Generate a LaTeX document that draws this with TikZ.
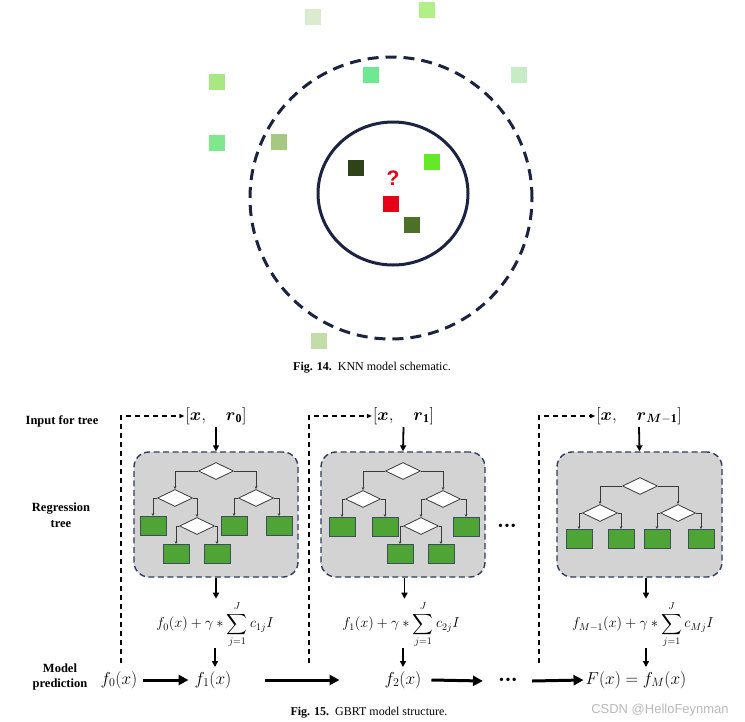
\documentclass[tikz,border=0pt]{standalone}
\usepackage{fontspec}
\setmainfont{Liberation Serif}
\setsansfont{Liberation Sans}
\usepackage{amsmath}
\usetikzlibrary{shapes.geometric,arrows.meta}
\definecolor{navy}{HTML}{1B2340}
\definecolor{boxline}{HTML}{2E3B5C}
\definecolor{boxgray}{HTML}{D3D3D3}
\definecolor{leafgreen}{HTML}{4EA535}
\definecolor{leafline}{HTML}{3E4E5A}
\definecolor{treeline}{HTML}{3A3A3A}
\definecolor{qred}{HTML}{E60018}
\definecolor{ka}{HTML}{DCEBD0}
\definecolor{kb}{HTML}{B3EF87}
\definecolor{kc}{HTML}{A8E880}
\definecolor{kd}{HTML}{6EE891}
\definecolor{ke}{HTML}{C6ECC6}
\definecolor{kf}{HTML}{80E88C}
\definecolor{kg}{HTML}{A7C880}
\definecolor{kh}{HTML}{2E4418}
\definecolor{ki}{HTML}{64E82A}
\definecolor{kj}{HTML}{4A7127}
\definecolor{kk}{HTML}{C2DCAA}
\begin{document}
\begin{tikzpicture}[x=1pt,y=-1pt,
  sq/.style={rectangle, minimum width=16pt, minimum height=16pt, inner sep=0pt, draw=none},
  treebox/.style={rectangle, draw=boxline, fill=boxgray, dash pattern=on 6pt off 3.5pt, line width=1.4pt, rounded corners=15pt, minimum height=125pt, inner sep=0pt},
  dia/.style={diamond, draw=treeline, fill=white, minimum width=35pt, minimum height=17pt, inner sep=0pt, line width=0.8pt},
  leaf/.style={rectangle, draw=leafline, fill=leafgreen, minimum width=26pt, minimum height=19pt, inner sep=0pt, line width=0.8pt},
  tedge/.style={draw=treeline, line width=0.8pt, -{Stealth[length=3pt,width=2.6pt]}},
  varrow/.style={line width=1.8pt, -{Triangle[length=6pt,width=6pt]}},
  harrow/.style={line width=3pt, -{Triangle[length=10pt,width=10pt]}},
  fb/.style={line width=1.2pt, dash pattern=on 5pt off 4pt, -{Triangle[length=5pt,width=4pt]}},
  lab/.style={font=\bfseries\fontsize{12.5}{15.5}\selectfont, align=center, inner sep=0pt},
  inp/.style={font=\fontsize{17}{20}\selectfont, inner sep=0pt},
  big/.style={font=\fontsize{18.5}{21}\selectfont, inner sep=0pt},
  frm/.style={font=\fontsize{14}{16}\selectfont, inner sep=0pt},
  captxt/.style={font=\fontsize{12}{14}\selectfont, inner sep=0pt}
]
\useasboundingbox (0,0) rectangle (745,721);

% ---------- KNN ----------
\draw[navy, line width=3pt, dash pattern=on 11pt off 7pt] (391,198) circle[radius=141pt];
\draw[navy, line width=3pt] (393,193.5) ellipse[x radius=75pt, y radius=71.5pt];
\node[sq, fill=ka] (s1) at (313,17) {};
\node[sq, fill=kb] (s2) at (427,10) {};
\node[sq, fill=kc] (s3) at (217,82) {};
\node[sq, fill=kd] (s4) at (371,75) {};
\node[sq, fill=ke] (s5) at (519,75) {};
\node[sq, fill=kf] (s6) at (217,143) {};
\node[sq, fill=kg] (s7) at (279,142) {};
\node[sq, fill=kh] (s8) at (356,168) {};
\node[sq, fill=ki] (s9) at (432,162) {};
\node[sq, fill=qred] (s10) at (391,204) {};
\node[sq, fill=kj] (s11) at (412,225) {};
\node[sq, fill=kk] (s12) at (319,341) {};
\node[text=qred, font=\sffamily\bfseries\fontsize{21}{22}\selectfont, inner sep=0pt] (q) at (393,178) {?};
\node[captxt] (cap1) at (372,368) {\textbf{Fig. 14.}\enspace KNN model schematic.};

% ---------- GBRT labels ----------
\node[lab] (l1) at (62,421) {Input for tree};
\node[lab] (l2) at (61,515) {Regression\\tree};
\node[lab] (l3) at (60,677) {Model\\prediction};

% ---------- boxes ----------
\node[treebox, minimum width=164pt] (b1) at (216,514.5) {};
\node[treebox, minimum width=164pt] (b2) at (403,514.5) {};
\node[treebox, minimum width=165pt] (b3) at (639.5,514.5) {};

% tree 1
\node[dia] (t1) at (216,471) {};
\node[dia] (t1L) at (175,498) {};
\node[dia] (t1R) at (256,498) {};
\node[leaf] (t1LL) at (153,526) {};
\node[dia] (t1LR) at (197,526) {};
\node[leaf] (t1LRL) at (176,554) {};
\node[leaf] (t1LRR) at (217,554) {};
\node[leaf] (t1RL) at (234,526) {};
\node[leaf] (t1RR) at (279,526) {};
\draw[tedge] (t1.west) -| (t1L.north);
\draw[tedge] (t1.east) -| (t1R.north);
\draw[tedge] (t1L.west) -| (t1LL.north);
\draw[tedge] (t1L.east) -| (t1LR.north);
\draw[tedge] (t1LR.west) -| (t1LRL.north);
\draw[tedge] (t1LR.east) -| (t1LRR.north);
\draw[tedge] (t1R.west) -| (t1RL.north);
\draw[tedge] (t1R.east) -| (t1RR.north);

% tree 2
\node[dia] (t2) at (403,471) {};
\node[dia] (t2L) at (363,499) {};
\node[dia] (t2R) at (443,499) {};
\node[leaf] (t2LL) at (342,527) {};
\node[leaf] (t2LR) at (385,527) {};
\node[dia] (t2RL) at (421,526) {};
\node[leaf] (t2RLL) at (400,554) {};
\node[leaf] (t2RLR) at (441,554) {};
\node[leaf] (t2RR) at (466,527) {};
\draw[tedge] (t2.west) -| (t2L.north);
\draw[tedge] (t2.east) -| (t2R.north);
\draw[tedge] (t2L.west) -| (t2LL.north);
\draw[tedge] (t2L.east) -| (t2LR.north);
\draw[tedge] (t2R.west) -| (t2RL.north);
\draw[tedge] (t2R.east) -| (t2RR.north);
\draw[tedge] (t2RL.west) -| (t2RLL.north);
\draw[tedge] (t2RL.east) -| (t2RLR.north);

% tree 3
\node[dia] (t3) at (640,486) {};
\node[dia] (t3L) at (600,513) {};
\node[dia] (t3R) at (678,513) {};
\node[leaf] (t3LL) at (579,539) {};
\node[leaf] (t3LR) at (621,539) {};
\node[leaf] (t3RL) at (657,539) {};
\node[leaf] (t3RR) at (701,539) {};
\draw[tedge] (t3.west) -| (t3L.north);
\draw[tedge] (t3.east) -| (t3R.north);
\draw[tedge] (t3L.west) -| (t3LL.north);
\draw[tedge] (t3L.east) -| (t3LR.north);
\draw[tedge] (t3R.west) -| (t3RL.north);
\draw[tedge] (t3R.east) -| (t3RR.north);

\node[font=\fontsize{14}{16}\selectfont, inner sep=0pt] (dots1) at (507,527) {\textbullet\kern1.5pt\textbullet\kern1.5pt\textbullet};

% ---------- inputs ----------
\node[inp] (in1) at (216,416) {$[\boldsymbol{x},\quad\boldsymbol{r}_{\mathbf{0}}]$};
\node[inp] (in2) at (403.5,416) {$[\boldsymbol{x},\quad\boldsymbol{r}_{\mathbf{1}}]$};
\node[inp] (in3) at (639,416) {$[\boldsymbol{x},\quad\boldsymbol{r}_{\boldsymbol{M}\mathbf{-1}}]$};
\draw[varrow] (in1.south |- 0,427) -- (b1.north);
\draw[varrow] (in2.south |- 0,427) -- (b2.north);
\draw[varrow] (in3.south |- 0,427) -- (b3.north);

% ---------- formulas ----------
\node[frm] (fm1) at (215,625) {$f_0(x)+\gamma\ast\displaystyle\sum_{j=1}^{J}c_{1j}I$};
\node[frm] (fm2) at (401,625) {$f_1(x)+\gamma\ast\displaystyle\sum_{j=1}^{J}c_{2j}I$};
\node[frm] (fm3) at (643,625) {$f_{M-1}(x)+\gamma\ast\displaystyle\sum_{j=1}^{J}c_{Mj}I$};
\draw[varrow] (b1.south) -- ++(0,21);
\draw[varrow] ([xshift=1.5pt]b2.south) -- ++(0,21);
\draw[varrow] ([xshift=6.5pt]b3.south) -- ++(0,21);

% ---------- predictions ----------
\node[big] (p0) at (119,680) {$f_0(x)$};
\node[big] (p1) at (213,680) {$f_1(x)$};
\node[big] (p2) at (403,680) {$f_2(x)$};
\node[font=\fontsize{14}{16}\selectfont, inner sep=0pt] (dots2) at (508,681) {\textbullet\kern1.5pt\textbullet\kern1.5pt\textbullet};
\node[big] (pM) at (636,680) {$F(x)=f_M(x)$};
\draw[varrow] ([xshift=2pt]p1.north |- 0,648) -- ([xshift=2pt]p1.north |- 0,667);
\draw[varrow] (p2.north |- 0,648) -- (p2.north |- 0,667);
\draw[varrow] ([xshift=10pt]pM.north |- 0,648) -- ([xshift=10pt]pM.north |- 0,667);

\draw[harrow] ([xshift=6pt]p0.east) -- ([xshift=-6pt]p1.west);
\draw[harrow] ([xshift=34pt]p1.east) -- ([xshift=-45pt]p2.west);
\draw[harrow] ([xshift=10pt]p2.east) -- ([xshift=-16pt]dots2.west);
\draw[harrow] ([xshift=15pt]dots2.east) -- ([xshift=-2pt]pM.west);

% ---------- feedback dashed ----------
\coordinate (d1) at (121,663);
\coordinate (d2) at (309,663);
\coordinate (d3) at (539,663);
\draw[fb] (d1) |- ([xshift=-1pt]in1.west);
\draw[fb] (d2) |- ([xshift=-1pt]in2.west);
\draw[fb] (d3) |- ([xshift=-1pt]in3.west);

\node[captxt] (cap2) at (369,713) {\textbf{Fig. 15.}\enspace GBRT model structure.};
\node[font=\sffamily\fontsize{13}{14}\selectfont, text=gray!55, inner sep=0pt] (wm) at (660,710) {CSDN @HelloFeynman};
\end{tikzpicture}
\end{document}
